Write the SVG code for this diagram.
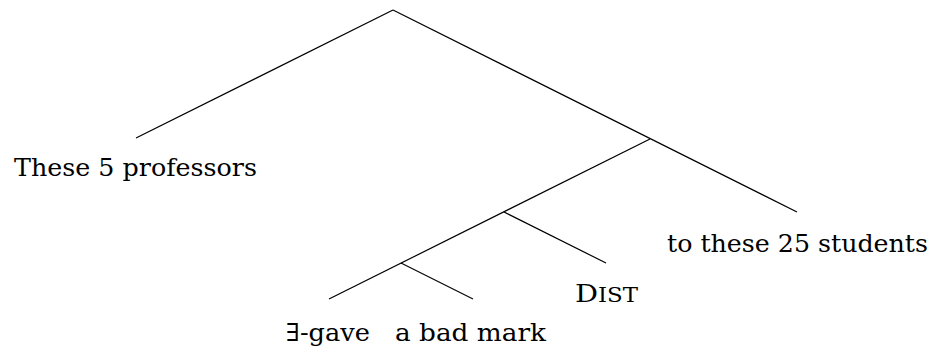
<svg xmlns="http://www.w3.org/2000/svg" width="930" height="346" viewBox="0 0 930 346">
<style>
  .edge { stroke: #000; stroke-width: 1.2; fill: none; stroke-linecap: butt; }
  .lbl { font-family: "DejaVu Serif", "Liberation Serif", serif; font-size: 24.5px; fill: #000; }
</style>
<rect width="930" height="346" fill="#fff"/>
<g id="connectors">
  <line class="edge" x1="393" y1="10" x2="136" y2="138"/>
  <line class="edge" x1="393" y1="10" x2="797" y2="212"/>
  <line class="edge" x1="650" y1="139" x2="329" y2="299"/>
  <line class="edge" x1="504" y1="212" x2="606" y2="263"/>
  <line class="edge" x1="401" y1="263" x2="473" y2="299"/>
</g>
<g id="node-professors">
  <text class="lbl" x="14" y="176" textLength="243" lengthAdjust="spacingAndGlyphs">These 5 professors</text>
</g>
<g id="node-students">
  <text class="lbl" x="667" y="252" textLength="261" lengthAdjust="spacingAndGlyphs">to these 25 students</text>
</g>
<g id="node-dist">
  <text class="lbl" x="575" y="302" textLength="63" lengthAdjust="spacingAndGlyphs">D<tspan font-size="19.5">IST</tspan></text>
</g>
<g id="node-gave">
  <text class="lbl" x="286" y="341" textLength="84" lengthAdjust="spacingAndGlyphs">∃-gave</text>
</g>
<g id="node-mark">
  <text class="lbl" x="395" y="341" textLength="151" lengthAdjust="spacingAndGlyphs">a bad mark</text>
</g>
</svg>
